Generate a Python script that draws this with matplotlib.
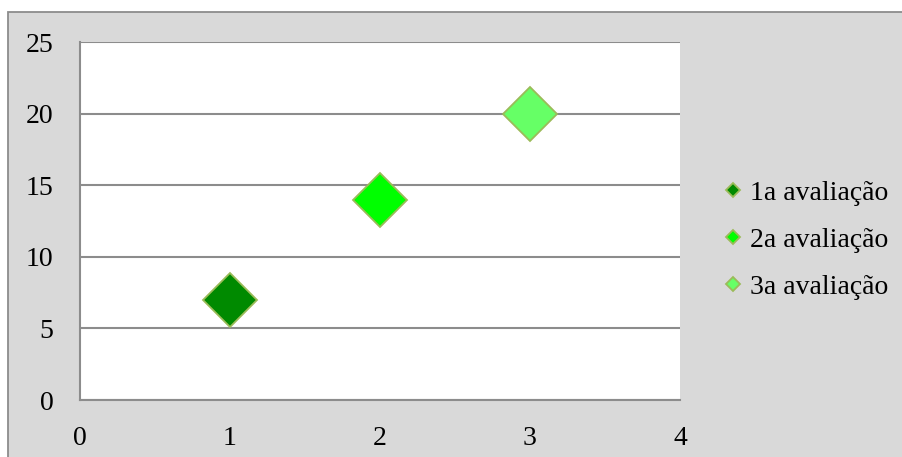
import matplotlib.pyplot as plt
from matplotlib.patches import Rectangle

series = ["1a avaliação", "2a avaliação", "3a avaliação"]
x_vals = [1, 2, 3]
y_vals = [7, 14, 20]
colors = ["#008a00", "#00ff00", "#66ff66"]

plt.rcParams["font.family"] = ["Liberation Serif", "DejaVu Serif"]
plt.rcParams["font.size"] = 20

fig = plt.figure(figsize=(9.03, 4.57), dpi=100)
fig.patch.set_facecolor("white")

# grey chart area with a thin border
fig.patches.append(Rectangle((8 / 903, -0.01), 1.0, (457 - 12) / 457 + 0.01,
                             transform=fig.transFigure, facecolor="#d9d9d9",
                             edgecolor="#8c8c8c", linewidth=1.3, zorder=-5))

ax = fig.add_axes([80 / 903, 57 / 457, 600 / 903, 358 / 457])
ax.set_facecolor("white")
ax.set_zorder(2)

for name, xv, yv, c in zip(series, x_vals, y_vals, colors):
    ax.plot([xv], [yv], "D", ms=28, color=c, markeredgecolor="#9bbb59",
            markeredgewidth=1.3, label=name, zorder=3)

ax.set_xlim(0, 4)
ax.set_ylim(0, 25)
ax.set_xticks([0, 1, 2, 3, 4])
ax.set_yticks([0, 5, 10, 15, 20, 25])
ax.tick_params(length=0)
ax.tick_params(axis="x", pad=19)
ax.tick_params(axis="y", pad=19)

ax.yaxis.grid(True, color="#8c8c8c", linewidth=1.5)
ax.set_axisbelow(True)
for s in ["top", "right"]:
    ax.spines[s].set_visible(False)
for s in ["left", "bottom"]:
    ax.spines[s].set_color("#8c8c8c")
    ax.spines[s].set_linewidth(1.5)

leg = ax.legend(loc="center left", bbox_to_anchor=(725 / 903, (457 - 240) / 457),
                bbox_transform=fig.transFigure, frameon=False, markerscale=0.26,
                handlelength=0.6, handletextpad=0.3, labelspacing=0.77,
                borderpad=0, borderaxespad=0)

fig.savefig("out.png", dpi=100, facecolor=fig.get_facecolor())
